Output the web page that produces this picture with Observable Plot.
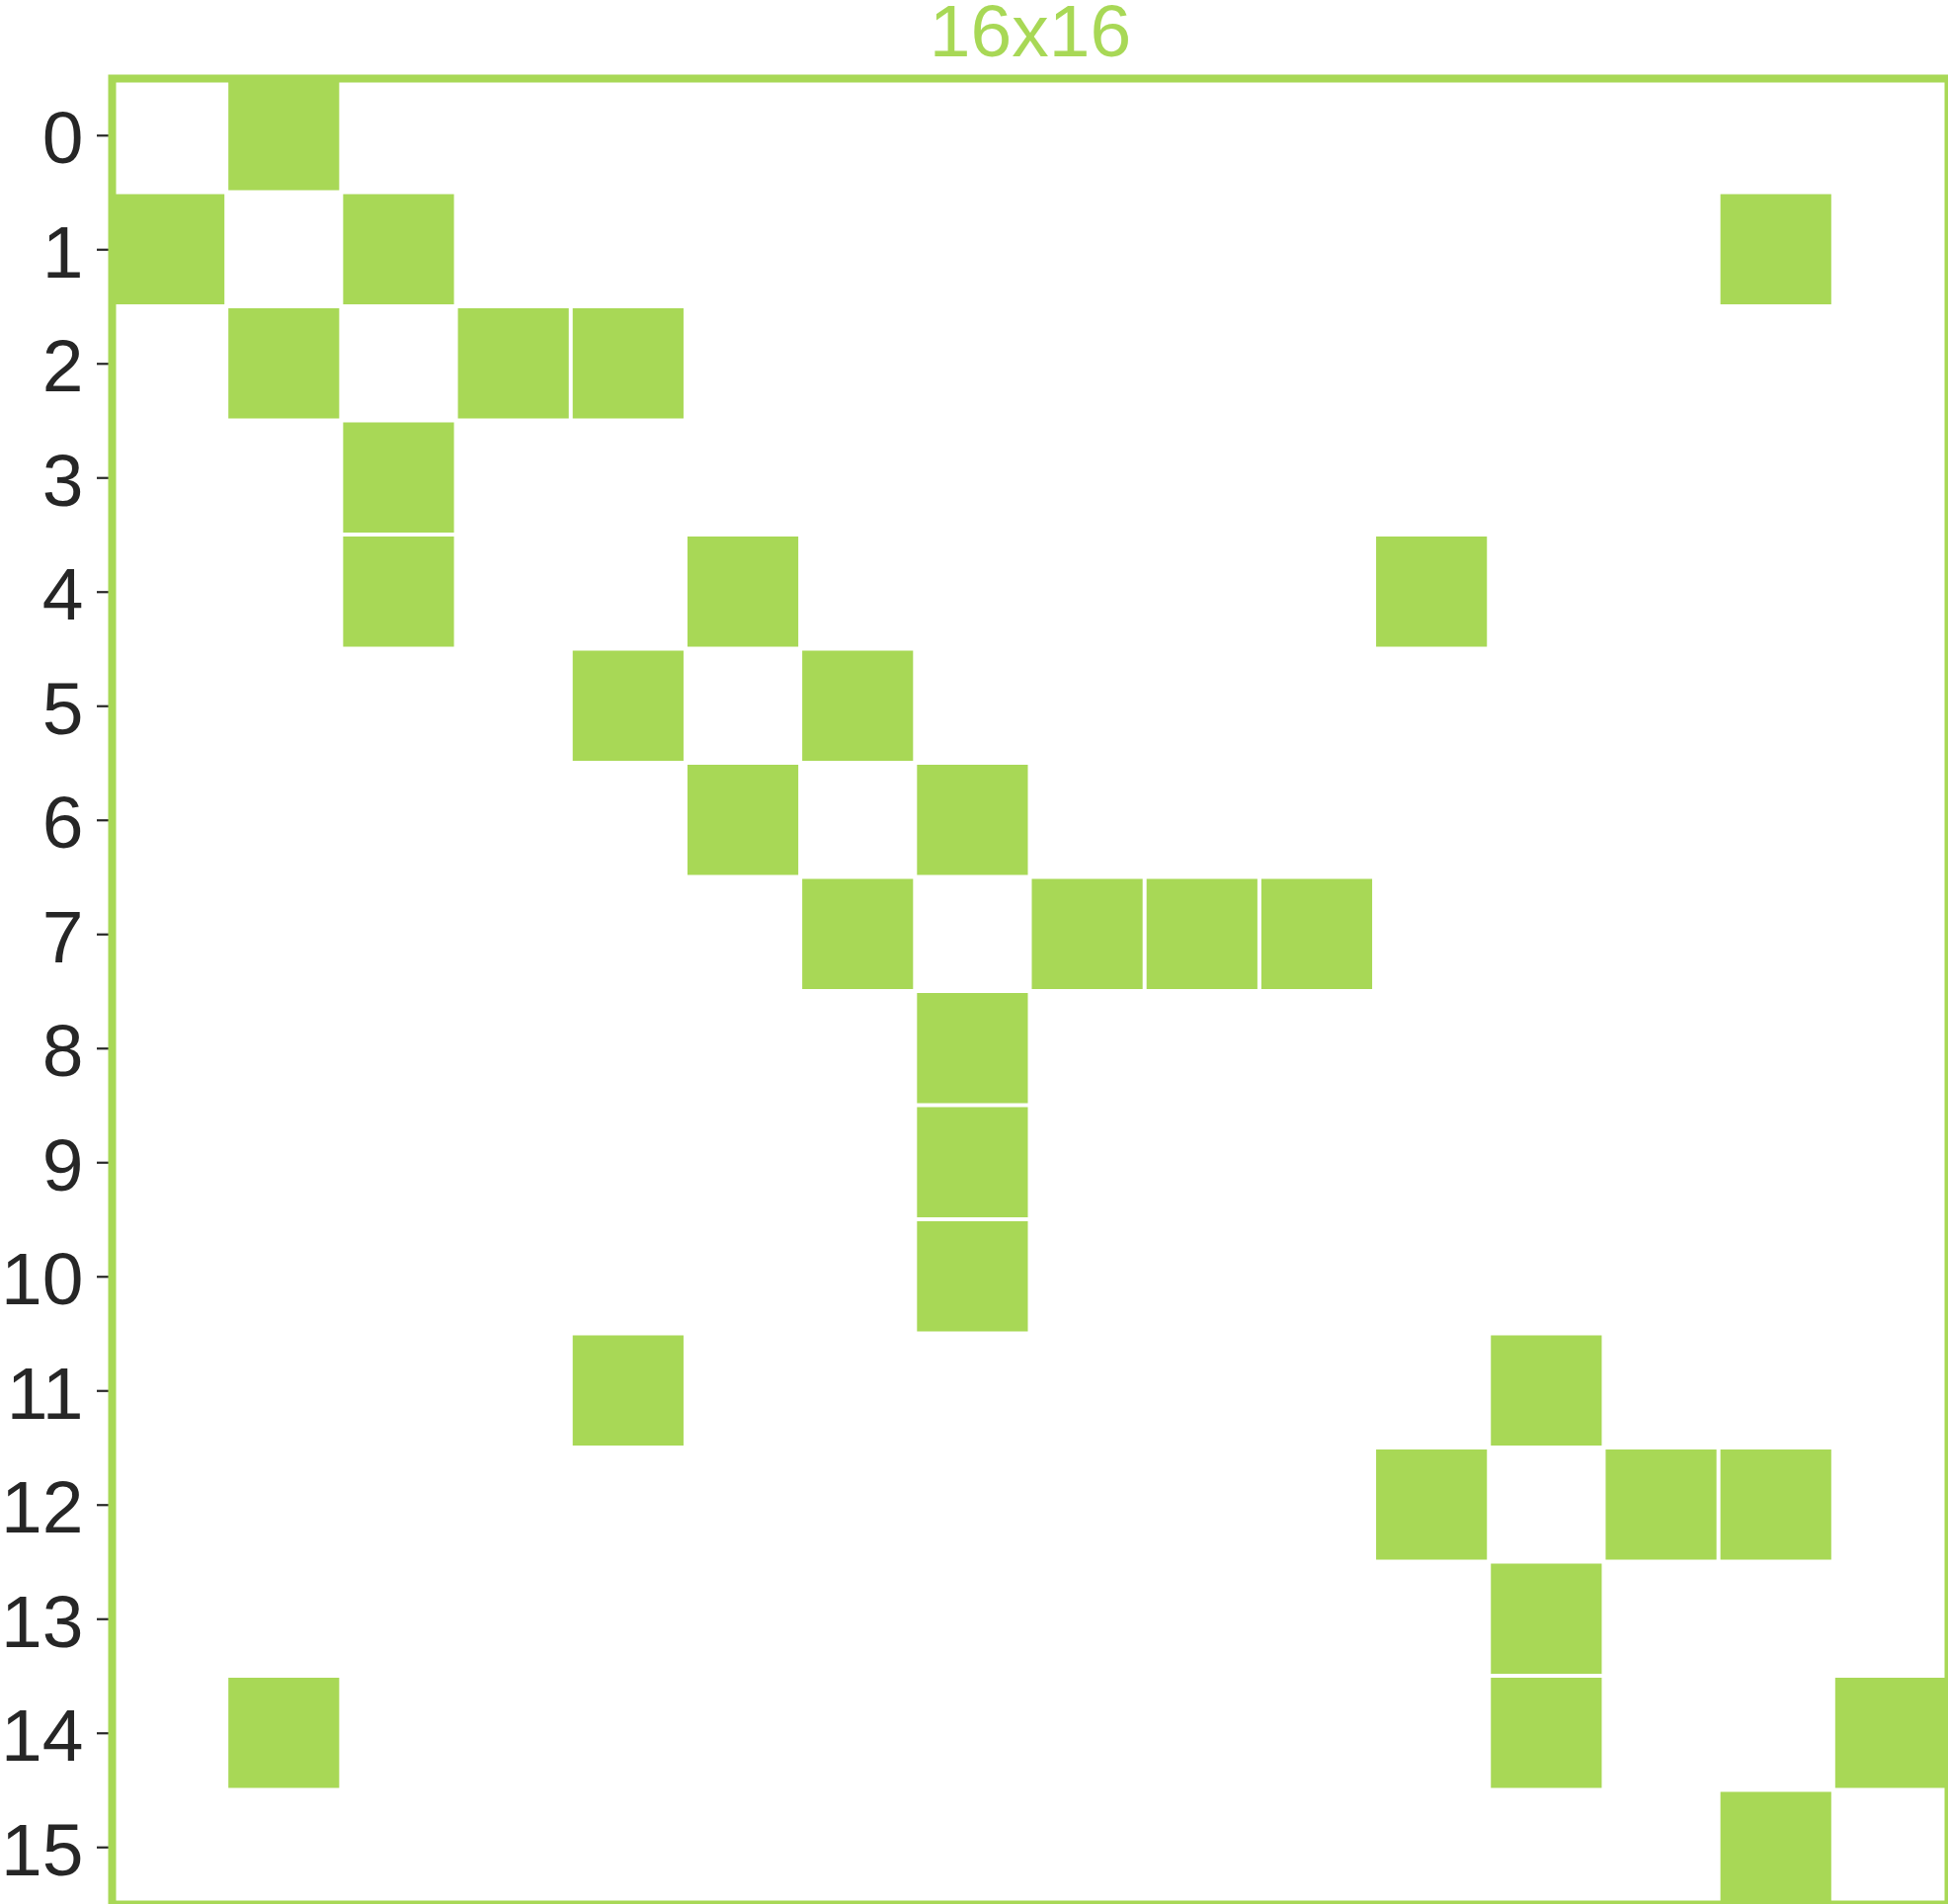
<!DOCTYPE html>
<html>
<head>
<meta charset="utf-8">
<script src="https://cdn.jsdelivr.net/npm/d3@7"></script>
<script src="https://cdn.jsdelivr.net/npm/@observablehq/plot@0.6"></script>
<style>
  html, body { margin: 0; padding: 0; background: #fff; }
  #chart svg { display: block; }
</style>
</head>
<body>
<div id="chart"></div>
<script>
// Matrix title
const title = "16x16";
// Row/column indices (categories)
const indices = [0,1,2,3,4,5,6,7,8,9,10,11,12,13,14,15];
// Nonzero entries: for each row, the list of columns that are filled
const rowEntries = [
  [1],
  [0, 2, 14],
  [1, 3, 4],
  [2],
  [2, 5, 11],
  [4, 6],
  [5, 7],
  [6, 8, 9, 10],
  [7],
  [7],
  [7],
  [4, 12],
  [11, 13, 14],
  [12],
  [1, 12, 15],
  [14]
];

const green = "#a8d856";
const cells = rowEntries.flatMap((cols, r) => cols.map(c => ({row: r, col: c})));

const plot = Plot.plot({
  width: 1972,
  height: 1927,
  marginLeft: 113,
  marginTop: 79,
  marginRight: 0,
  marginBottom: 0,
  style: {fontFamily: "'Liberation Sans', Arial, sans-serif", background: "#fff"},
  x: {type: "band", domain: indices, padding: 0, round: false, axis: null},
  y: {type: "band", domain: indices, padding: 0, round: false, axis: null},
  marks: [
    Plot.cell(cells, {x: "col", y: "row", fill: green, inset: 2}),
    // tick marks
    Plot.axisY(indices, {
      anchor: "left",
      tickSize: 15,
      tickFormat: () => "",
      strokeWidth: 2.2,
      stroke: "#262626",
      label: null
    }),
    // tick labels
    Plot.axisY(indices, {
      anchor: "left",
      tickSize: 0,
      tickPadding: 29,
      fill: "#262626",
      fontSize: 75,
      dy: 4,
      label: null
    }),
    Plot.frame({stroke: green, strokeWidth: 8}),
    Plot.text([title], {
      frameAnchor: "top",
      text: d => d,
      lineAnchor: "middle",
      dy: -47,
      fontSize: 75,
      fill: green,
      textAnchor: "middle"
    })
  ]
});
document.getElementById("chart").appendChild(plot);
</script>
</body>
</html>
